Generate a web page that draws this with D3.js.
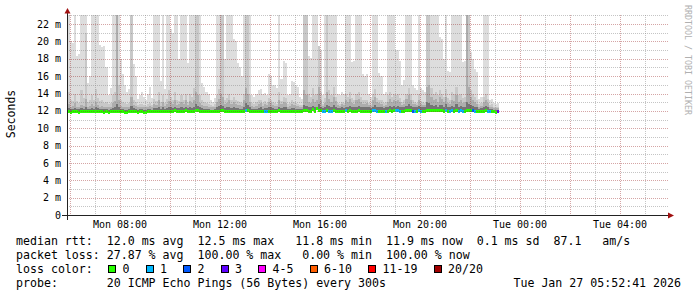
<!DOCTYPE html>
<html><head><meta charset="utf-8">
<script src="https://d3js.org/d3.v7.min.js"></script>
<style>
  body { margin: 0; background: #fff; }
  svg text { font-family: "DejaVu Sans Mono", monospace; fill: #000; }
  .pre { white-space: pre; }
</style>
</head>
<body>
<svg id="chart" width="697" height="297"></svg>
<script>
"use strict";
// 5 minute steps starting Mon 05:50 UTC, 20 pings each
const smokeMax = [
  30,30,20.1,19.8,30,18.3,18.5,30,30,30, 15.2,16.0,30,30,30,30,19.6,19.4,19.5,17.0,
  13.8,14.6,30,30,30,30,18.0,16.2,15.0,14.2, 14.5,30,17.4,16.0,13.4,13.8,14.2,13.6,13.2,14.0,
  14.8,13.5,30,30,30,15.5,30,14.5,30,30, 21.4,21.0,30,30,18.0,30,30,30,17.5,30,
  30,30,30,30,30,15.2,14.8,14.2,14.0,13.2, 13.0,13.5,30,30,30,30,18.0,30,30,30,
  20.3,20.0,17.5,17.0,16.0,30,30,30,30,13.8, 13.6,14.0,14.4,14.5,13.9,14.1,13.8,16.2,16.0,15.0,
  15.0,14.6,30,15.7,17.8,17.5,13.8,14.0,15.5,15.3, 15.0,14.8,13.6,13.4,30,30,18.3,18.1,30,30,
  30,19.5,19.0,13.8,30,30,30,30,30,30, 14.0,13.8,14.2,14.0,30,30,30,17.6,17.8,30,
  30,30,16.3,16.0,16.2,14.0,13.6,30,30,30, 16.4,16.0,13.9,14.2,30,30,30,30,19.0,19.0,
  17.8,15.0,15.6,30,30,30,15.0,14.6,14.4,30, 14.6,14.4,14.2,30,30,30,30,30,30,20.5,
  20.3,18.0,30,16.6,16.5,30,30,30,30,30, 17.6,17.8,30,30,18.8,18.0,16.8,16.5,13.4,13.6,
  30,30,30,13.2,13.4,12.9,12.8,12.9
];
const smokeHi = [
  13.6,14.2,13.2,13.1,14.0,13.1,12.9,14.4,13.5,21.0, 13.0,13.2,13.8,13.3,14.5,13.5,13.1,13.3,12.9,13.0,
  12.8,12.9,13.8,14.2,30,15.0,13.2,13.0,12.9,12.8, 12.9,30,13.3,13.0,12.7,12.8,12.8,12.7,12.6,12.8,
  12.9,12.7,13.4,13.1,14.2,13.0,13.8,12.9,13.4,14.4, 13.6,13.3,14.2,13.2,13.1,13.8,13.3,13.9,13.0,14.0,
  13.6,14.6,30,30,13.8,13.2,13.0,12.9,12.8,12.7, 12.6,12.8,13.8,14.5,30,30,13.3,13.5,13.9,13.2,
  13.6,13.3,13.1,13.0,12.9,14.0,30,30,13.8,12.9, 12.8,13.0,13.2,13.3,12.9,13.1,12.9,13.5,13.3,13.0,
  12.9,12.8,14.2,13.1,13.6,13.5,12.8,12.9,13.2,13.0, 12.9,12.8,12.7,12.7,30,30,14.0,13.6,14.6,13.8,
  13.9,19.5,14.2,12.8,13.5,30,14.4,13.8,14.8,13.6, 12.9,12.8,13.0,12.9,14.0,13.6,14.2,13.5,13.3,13.9,
  14.2,13.6,13.3,13.2,13.3,12.9,12.8,14.0,14.5,13.5, 13.3,13.2,12.9,13.0,13.8,14.2,13.6,14.0,13.8,13.9,
  13.5,13.0,13.2,14.0,14.6,13.9,13.2,13.0,12.9,13.9, 13.1,13.0,12.9,30,30,14.6,14.0,14.2,13.8,14.4,
  14.0,13.6,14.5,13.5,13.3,14.2,13.9,14.8,13.8,14.0, 13.5,13.6,30,30,14.4,13.9,13.6,13.3,12.8,12.9,
  13.6,13.9,13.4,12.7,12.8,12.5,12.4,12.5
];
const smokeMid = [
  12.6,12.8,12.5,12.6,12.9,12.5,12.4,12.7,12.6,13.4, 12.5,12.6,12.8,12.6,13.0,12.7,12.5,12.6,12.4,12.5,
  12.4,12.5,12.9,13.1,30,13.2,12.6,12.5,12.4,12.4, 12.5,13.6,12.7,12.6,12.4,12.5,12.5,12.4,12.4,12.5,
  12.6,12.4,12.8,12.7,13.2,12.6,13.0,12.6,12.8,13.1, 13.0,12.8,13.2,12.7,12.8,13.0,12.8,13.2,12.7,13.1,
  12.9,13.3,14.2,13.8,12.9,12.7,12.6,12.6,12.5,12.4, 12.4,12.5,13.0,13.4,14.0,13.6,12.8,12.9,13.2,12.8,
  13.0,12.8,12.7,12.7,12.6,13.2,14.6,14.0,13.0,12.6, 12.5,12.6,12.8,12.9,12.6,12.8,12.7,13.0,12.9,12.7,
  12.6,12.6,13.2,12.8,13.0,12.9,12.5,12.6,12.8,12.7, 12.6,12.6,12.5,12.5,14.4,13.8,13.0,12.9,13.4,13.0,
  13.2,14.8,13.2,12.6,12.9,14.2,13.4,13.0,13.6,13.1, 12.7,12.6,12.8,12.7,13.2,13.0,13.4,12.9,12.8,13.2,
  13.4,13.0,12.8,12.8,12.9,12.7,12.6,13.2,13.6,13.0, 12.9,12.8,12.6,12.7,13.0,13.4,13.0,13.3,13.1,13.2,
  13.0,12.7,12.8,13.4,13.8,13.2,12.8,12.8,12.7,13.2, 12.8,12.7,12.7,14.8,15.0,13.6,13.2,13.4,13.0,13.6,
  13.4,13.0,13.6,12.9,12.8,13.3,13.1,13.8,13.0,13.2, 12.9,13.0,30,14.8,13.6,13.2,13.0,12.8,12.5,12.6,
  13.0,13.2,12.9,12.4,12.5,12.3,12.3,12.3
];
const smokeLow = [
  12.2,12.3,12.2,12.2,12.3,12.2,12.2,12.3,12.2,12.5, 12.2,12.2,12.3,12.2,12.4,12.3,12.2,12.2,12.2,12.2,
  12.1,12.2,12.3,12.4,12.8,12.5,12.2,12.2,12.1,12.1, 12.2,12.6,12.3,12.2,12.1,12.2,12.2,12.1,12.1,12.2,
  12.2,12.1,12.3,12.3,12.5,12.2,12.4,12.2,12.3,12.5, 12.4,12.3,12.5,12.3,12.3,12.4,12.3,12.5,12.3,12.4,
  12.3,12.5,12.8,12.6,12.4,12.3,12.2,12.2,12.2,12.1, 12.1,12.2,12.4,12.6,12.7,12.6,12.3,12.4,12.5,12.3,
  12.4,12.3,12.3,12.2,12.2,12.5,12.9,12.7,12.4,12.2, 12.2,12.2,12.3,12.4,12.2,12.3,12.3,12.4,12.4,12.3,
  12.2,12.2,12.5,12.3,12.4,12.4,12.2,12.2,12.3,12.3, 12.2,12.2,12.2,12.2,12.7,12.6,12.4,12.4,12.6,12.4,
  12.5,12.8,12.5,12.3,12.4,12.7,12.6,12.5,12.7,12.5, 12.3,12.3,12.4,12.3,12.5,12.4,12.6,12.4,12.4,12.5,
  12.6,12.5,12.4,12.4,12.4,12.4,12.3,12.5,12.7,12.5, 12.5,12.4,12.3,12.4,12.5,12.6,12.5,12.6,12.5,12.6,
  12.5,12.4,12.4,12.6,12.8,12.6,12.4,12.4,12.4,12.6, 12.4,12.4,12.4,13.0,12.9,12.7,12.6,12.7,12.5,12.7,
  12.7,12.5,12.8,12.5,12.4,12.6,12.5,12.8,12.5,12.6, 12.5,12.5,13.0,12.8,12.7,12.6,12.5,12.4,12.2,12.3,
  12.5,12.6,12.5,12.2,12.2,12.1,12.1,12.1
];
const median = [
  11.95,11.95,11.92,11.95,11.97,11.93,11.92,11.95,11.95,11.98, 11.93,11.94,11.96,11.93,11.98,11.95,11.93,11.94,11.92,11.93,
  11.92,11.93,11.96,11.98,12.02,11.98,11.94,11.93,11.92,11.92, 11.93,12.02,11.96,11.94,11.92,11.93,11.93,11.92,11.92,11.94,
  11.95,11.93,11.97,11.96,12.0,11.95,11.98,11.95,11.97,12.02, 12.0,11.98,12.05,11.97,11.98,12.02,11.98,12.06,11.97,12.03,
  12.0,12.04,12.08,12.06,12.0,11.97,11.96,11.95,11.94,11.93, 11.93,11.94,12.0,12.04,12.06,12.05,11.98,12.0,12.04,11.98,
  12.02,11.99,11.98,11.97,11.96,12.04,12.1,12.06,12.0,11.95, 11.94,11.95,11.98,12.0,11.95,11.98,11.97,12.02,12.0,11.97,
  11.96,11.96,12.05,11.99,12.02,12.01,11.94,11.95,11.99,11.98, 11.96,11.96,11.95,11.95,12.08,12.05,12.02,12.01,12.2,12.04,
  12.35,12.1,12.05,11.97,12.0,12.08,12.04,12.02,12.06,12.03, 11.98,11.97,12.0,11.98,12.05,12.02,12.06,12.01,12.0,12.04,
  12.06,12.03,12.0,12.0,12.0,11.98,11.96,12.05,12.1,12.03, 12.02,12.0,11.97,11.99,12.04,12.08,12.04,12.07,12.05,12.06,
  12.04,12.0,12.01,12.08,12.12,12.07,12.02,12.0,12.0,12.06, 12.01,12.0,11.99,12.15,12.12,12.1,12.07,12.09,12.05,12.1,
  12.09,12.04,12.12,12.02,12.01,12.06,12.04,12.1,12.03,12.06, 12.02,12.04,12.15,12.12,12.1,12.08,12.04,12.02,11.96,11.98,
  12.04,12.06,12.03,11.95,11.96,11.93,11.92,11.93
];
const lossCount = [
  0,0,0,0,0,0,0,0,0,0, 0,0,0,0,0,0,0,0,0,0,
  0,0,0,0,0,0,0,0,0,0, 0,0,0,0,0,0,0,0,0,0,
  0,0,0,0,0,0,0,0,0,0, 0,0,0,0,0,0,0,0,0,0,
  0,0,0,0,0,0,0,0,0,0, 0,0,0,0,0,0,0,0,0,0,
  0,0,0,0,0,0,1,0,0,0, 0,0,0,0,0,1,1,0,0,0,
  0,0,0,0,0,0,0,0,0,0, 0,0,0,0,0,0,0,0,0,0,
  0,0,0,1,1,0,1,1,0,0, 0,0,0,0,1,0,0,0,0,0,
  0,0,0,0,0,0,0,1,1,1, 0,0,0,1,0,0,0,0,1,1,
  1,0,0,0,0,0,2,1,0,1, 1,0,0,0,0,0,0,0,0,0,
  0,0,1,0,1,1,0,0,1,1, 1,0,0,0,0,2,1,0,0,0,
  0,0,1,1,0,0,0,3
];
const lossLabels = ["0", "1", "2", "3", "4-5", "6-10", "11-19", "20/20"];
const lossColors = ["#26ff00", "#00b8ff", "#0059ff", "#5e00ff", "#ff00fe", "#ff5e00", "#ff0000", "#a10000"];
const yTicks = [0, 2, 4, 6, 8, 10, 12, 14, 16, 18, 20, 22];
const statLines = [
  "median rtt:  12.0 ms avg  12.5 ms max   11.8 ms min  11.9 ms now  0.1 ms sd  87.1   am/s",
  "packet loss: 27.87 % avg  100.00 % max   0.00 % min  100.00 % now"
];
const probeText = "probe:       20 ICMP Echo Pings (56 Bytes) every 300s";
const dateText = "Tue Jan 27 05:52:41 2026";

const stepStart = Date.UTC(2026, 0, 26, 5, 50, 0), stepMs = 300000;
const t0 = new Date(Date.UTC(2026, 0, 26, 5, 52, 41)),
      t1 = new Date(Date.UTC(2026, 0, 27, 5, 52, 41));

const svg = d3.select("#chart");
const x = d3.scaleUtc().domain([t0, t1]).range([67, 667]);
const y = d3.scaleLinear().domain([0, 23.05]).range([215, 15]);

svg.append("defs").append("clipPath").attr("id", "plot")
  .append("rect").attr("x", 67).attr("y", 15).attr("width", 600).attr("height", 200);

const data = median.map((m, i) => ({
  x0: Math.round(x(new Date(stepStart + i * stepMs))),
  x1: Math.round(x(new Date(stepStart + (i + 1) * stepMs))),
  m: m, loss: lossCount[i]
}));

// smoke, lightest first
const plot = svg.append("g").attr("clip-path", "url(#plot)").attr("shape-rendering", "crispEdges");
[[smokeMax, "#dddddd"], [smokeHi, "#c8c8c8"], [smokeMid, "#adadad"], [smokeLow, "#747474"]]
  .forEach(([vals, col]) => {
    plot.append("g").selectAll("rect").data(data).join("rect")
      .attr("x", d => Math.max(67, d.x0))
      .attr("width", d => d.x1 - Math.max(67, d.x0))
      .attr("y", (d, i) => y(Math.min(vals[i], 30)))
      .attr("height", (d, i) => Math.max(0, y(d.m) + 1 - y(Math.min(vals[i], 30))))
      .attr("fill", col);
  });

function lossIdx(n) {
  if (n <= 3) return n;
  if (n <= 5) return 4;
  if (n <= 10) return 5;
  if (n <= 19) return 6;
  return 7;
}

// median, coloured by loss
plot.append("g").selectAll("rect").data(data).join("rect")
  .attr("x", d => Math.max(67, d.x0))
  .attr("width", d => d.x1 - Math.max(67, d.x0))
  .attr("y", d => Math.round(y(d.m)) - 1.5)
  .attr("height", 3)
  .attr("fill", d => lossColors[lossIdx(d.loss)]);

// grid on top
const grid = svg.append("g").attr("shape-rendering", "crispEdges").attr("fill", "none")
  .attr("stroke-width", 1).attr("stroke-dasharray", "1,1");
d3.range(1, 24).forEach(v => {
  if (y(v) < 15) return;
  const yy = Math.round(y(v)) + 0.5;
  grid.append("path").attr("d", `M67,${yy}H669`)
    .attr("stroke", v % 2 ? "rgba(140,140,140,0.5)" : "rgba(150,30,30,0.4)");
});
d3.utcHour.range(t0, t1).forEach(h => {
  const xx = Math.round(x(h)) + 0.5;
  grid.append("path").attr("d", `M${xx},15V215`)
    .attr("stroke", h.getUTCHours() % 2 ? "rgba(140,140,140,0.5)" : "rgba(150,30,30,0.4)");
});

// axes
const ax = svg.append("g").attr("shape-rendering", "crispEdges");
ax.append("path").attr("d", "M62,215.5H669").attr("stroke", "#222");
ax.append("path").attr("d", "M67.5,220V13").attr("stroke", "#222");
svg.append("path").attr("d", "M668,212.5L674,215.5L668,218.5Z").attr("fill", "#a01010");
svg.append("path").attr("d", "M64.5,13.5L67.5,8L70.5,13.5Z").attr("fill", "#a01010");

// tick labels
svg.append("g").selectAll("text").data(yTicks).join("text")
  .attr("x", 61).attr("y", d => y(d) + 3.6)
  .attr("text-anchor", "end").style("font-size", "10px")
  .text(d => d === 0 ? "0" : d + " m");
const fmt = d3.utcFormat("%a %H:%M");
svg.append("g").selectAll("text").data(x.ticks(d3.utcHour.every(4))).join("text")
  .attr("x", d => x(d)).attr("y", 228)
  .attr("text-anchor", "middle").style("font-size", "10px")
  .text(d => fmt(d));

svg.append("text").attr("transform", "translate(15,114) rotate(-90)")
  .attr("text-anchor", "middle").style("font-size", "11.5px").text("Seconds");
svg.append("text").attr("transform", "translate(685,5) rotate(90)")
  .style("font-size", "8.3px").style("fill", "#b0b0b0").text("RRDTOOL / TOBI OETIKER");

// legend
const fs = "11.6px";
statLines.forEach((s, i) => {
  svg.append("text").attr("class", "pre").attr("x", 16).attr("y", 244.5 + i * 14)
    .style("font-size", fs).text(s);
});
svg.append("text").attr("class", "pre").attr("x", 16).attr("y", 272.5)
  .style("font-size", fs).text("loss color:");
let cx = 108;
lossLabels.forEach((lab, i) => {
  svg.append("rect").attr("x", cx + 0.5).attr("y", 265.5).attr("width", 7).attr("height", 7)
    .attr("fill", lossColors[i]).attr("stroke", "#000").attr("shape-rendering", "crispEdges");
  svg.append("text").attr("x", cx + 14.5).attr("y", 272.5).style("font-size", fs).text(lab);
  cx = cx + 14.5 + lab.length * 7 + 16;
});
svg.append("text").attr("class", "pre").attr("x", 16).attr("y", 286.5)
  .style("font-size", fs).text(probeText);
svg.append("text").attr("x", 681).attr("y", 286.5).attr("text-anchor", "end")
  .style("font-size", fs).text(dateText);
</script>
</body>
</html>
